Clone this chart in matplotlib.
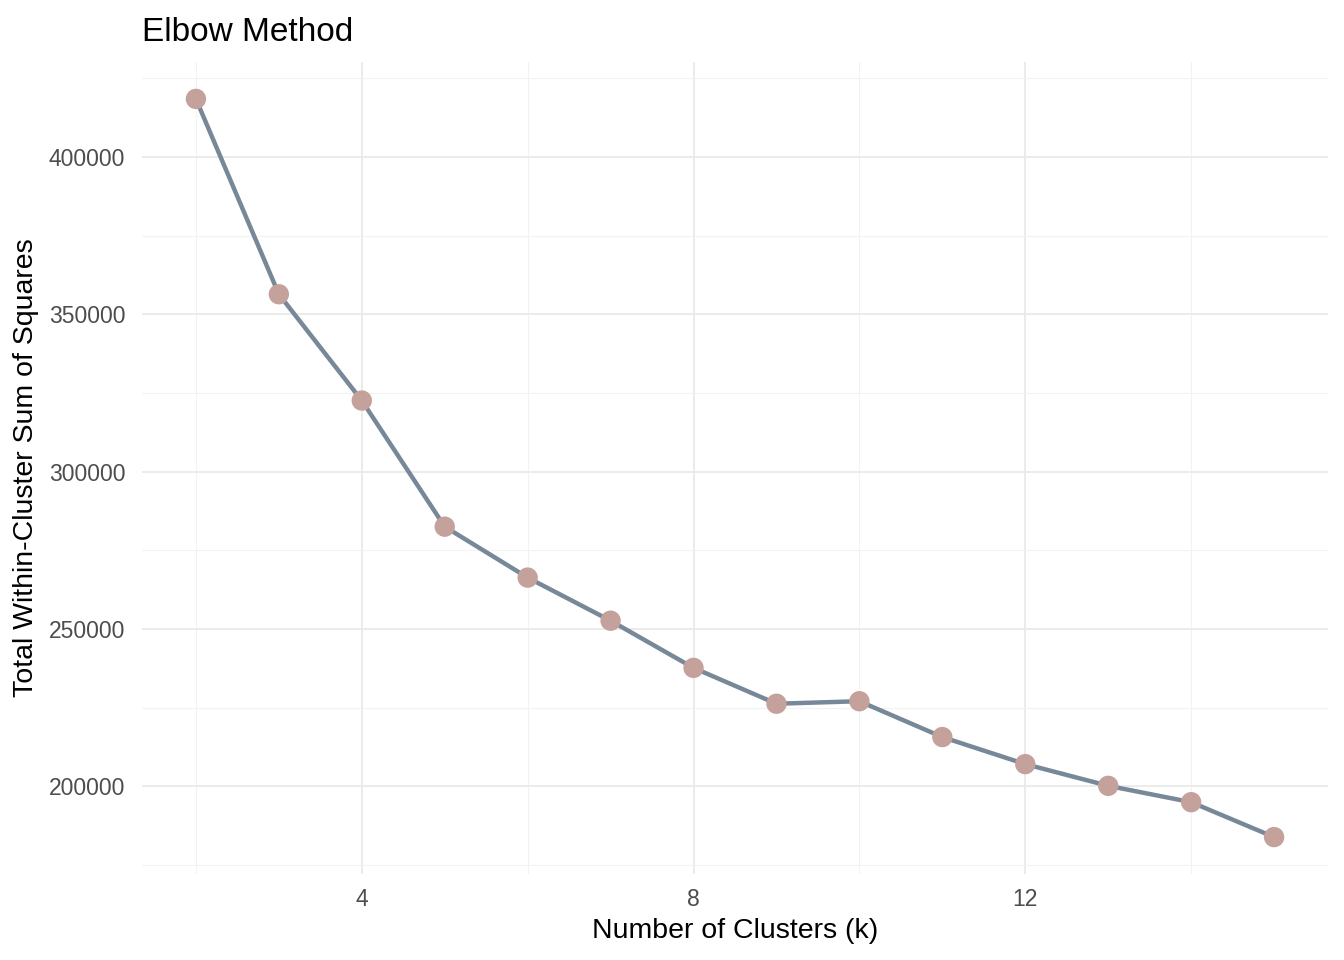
import numpy as np
import matplotlib.pyplot as plt
from matplotlib.ticker import FixedLocator

plt.rcParams['font.family'] = ['Liberation Sans', 'DejaVu Sans']

# Elbow data
k_values = [2, 3, 4, 5, 6, 7, 8, 9, 10, 11, 12, 13, 14, 15]
wss = [418500, 356400, 322600, 282500, 266300, 252600, 237600,
       226200, 227000, 215600, 207000, 200100, 194900, 183800]

x_major = [4, 8, 12]
x_minor = [2, 6, 10, 14]
y_major = [200000, 250000, 300000, 350000, 400000]
y_minor = [175000, 225000, 275000, 325000, 375000, 425000]

fig = plt.figure(figsize=(13.44, 9.6), dpi=100)
ax = fig.add_axes([142 / 1344, 1 - 874 / 960, (1328 - 142) / 1344, (874 - 62) / 960])

ax.plot(k_values, wss, color='#778899', lw=3.2, zorder=3, solid_capstyle='butt')
ax.scatter(k_values, wss, s=215, color='#C4A29B', edgecolors='none', zorder=4)

# ggplot-like 5% expansion
xr = max(k_values) - min(k_values)
yr = max(wss) - min(wss)
ax.set_xlim(min(k_values) - 0.05 * xr, max(k_values) + 0.05 * xr)
ax.set_ylim(min(wss) - 0.05 * yr, max(wss) + 0.05 * yr)

ax.xaxis.set_major_locator(FixedLocator(x_major))
ax.xaxis.set_minor_locator(FixedLocator(x_minor))
ax.yaxis.set_major_locator(FixedLocator(y_major))
ax.yaxis.set_minor_locator(FixedLocator(y_minor))
ax.set_yticklabels([str(v) for v in y_major])

ax.grid(True, which='major', color='#EBEBEB', lw=1.4, zorder=0)
ax.grid(True, which='minor', color='#F2F2F2', lw=0.8, zorder=0)
ax.set_axisbelow(True)
for s in ax.spines.values():
    s.set_visible(False)
ax.tick_params(which='both', length=0, labelsize=16.5, labelcolor='#4D4D4D')
ax.tick_params(axis='x', pad=10)
ax.tick_params(axis='y', pad=12)

ax.set_xlabel('Number of Clusters (k)', fontsize=20.5, labelpad=5)
ax.set_ylabel('Total Within-Cluster Sum of Squares', fontsize=20.5, labelpad=7)
fig.text(142 / 1344, 1 - 41 / 960, 'Elbow Method', fontsize=24, ha='left', va='baseline')

fig.savefig('out.png', dpi=100)
